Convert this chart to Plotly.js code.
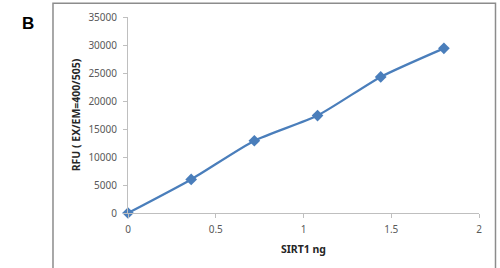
<!DOCTYPE html>
<html><head><meta charset="utf-8">
<script src="https://cdn.plot.ly/plotly-3.0.1.min.js"></script>
<style>html,body{margin:0;padding:0;background:#fff;}#chart{width:500px;height:268px;}</style>
</head><body><div id="chart"></div>
<script>
const sirtNg = [0, 0.36, 0.72, 1.08, 1.44, 1.8];
const rfu = [0, 6000, 12900, 17400, 24300, 29400];
const xTicks = [0, 0.5, 1, 1.5, 2];
const xTickLabels = ['0', '0.5', '1', '1.5', '2'];
const yTicks = [0, 5000, 10000, 15000, 20000, 25000, 30000, 35000];
const yTickLabels = ['0', '5000', '10000', '15000', '20000', '25000', '30000', '35000'];

const trace = {
  x: sirtNg, y: rfu, type: 'scatter', mode: 'lines+markers',
  line: {color: '#4a7ebb', width: 2.25, shape: 'spline', smoothing: 0.6},
  marker: {symbol: 'diamond', size: 9, color: '#4a7ebb'},
  cliponaxis: false, showlegend: false
};
const tickFont = {family: 'Noto Sans, Open Sans, sans-serif', size: 10, color: '#595959'};
const titleFont = {family: 'Noto Sans, Open Sans, sans-serif', size: 10.5, color: '#262626', weight: 'bold'};
const layout = {
  width: 500, height: 268,
  margin: {l: 128, r: 21, t: 17, b: 55},
  paper_bgcolor: '#fff', plot_bgcolor: '#fff',
  xaxis: {range: [0, 2], tickvals: xTicks, ticktext: xTickLabels, showgrid: false, zeroline: false,
    showline: true, linecolor: '#bfbfbf', linewidth: 1, ticks: 'outside', ticklen: 4, tickcolor: '#bfbfbf',
    ticklabelstandoff: 3,
    tickfont: tickFont, title: {text: '<b>SIRT1 ng</b>', font: titleFont, standoff: 10}},
  yaxis: {range: [0, 35000], tickvals: yTicks, ticktext: yTickLabels, showgrid: false, zeroline: false,
    showline: true, linecolor: '#bfbfbf', linewidth: 1, ticks: 'outside', ticklen: 4, tickcolor: '#bfbfbf',
    ticklabelstandoff: 4,
    tickfont: tickFont, title: {text: '<b>RFU ( EX/EM=400/505)</b>', font: titleFont, standoff: 5}},
  shapes: [{type: 'rect', xref: 'paper', yref: 'paper', x0: -0.2137, x1: 1.047, y0: -0.35, y1: 1.07,
    line: {color: '#8c8c8c', width: 1.5}, fillcolor: 'rgba(0,0,0,0)'}],
  annotations: [{text: '<b>B</b>', xref: 'paper', yref: 'paper', x: (27.5 - 128) / 351, y: (213 - 23) / 196,
    showarrow: false, xanchor: 'center', yanchor: 'middle', font: {family: 'Liberation Sans, Arial, sans-serif', size: 17, color: '#000'}}]
};
Plotly.newPlot('chart', [trace], layout, {displayModeBar: false, staticPlot: true});
</script></body></html>
